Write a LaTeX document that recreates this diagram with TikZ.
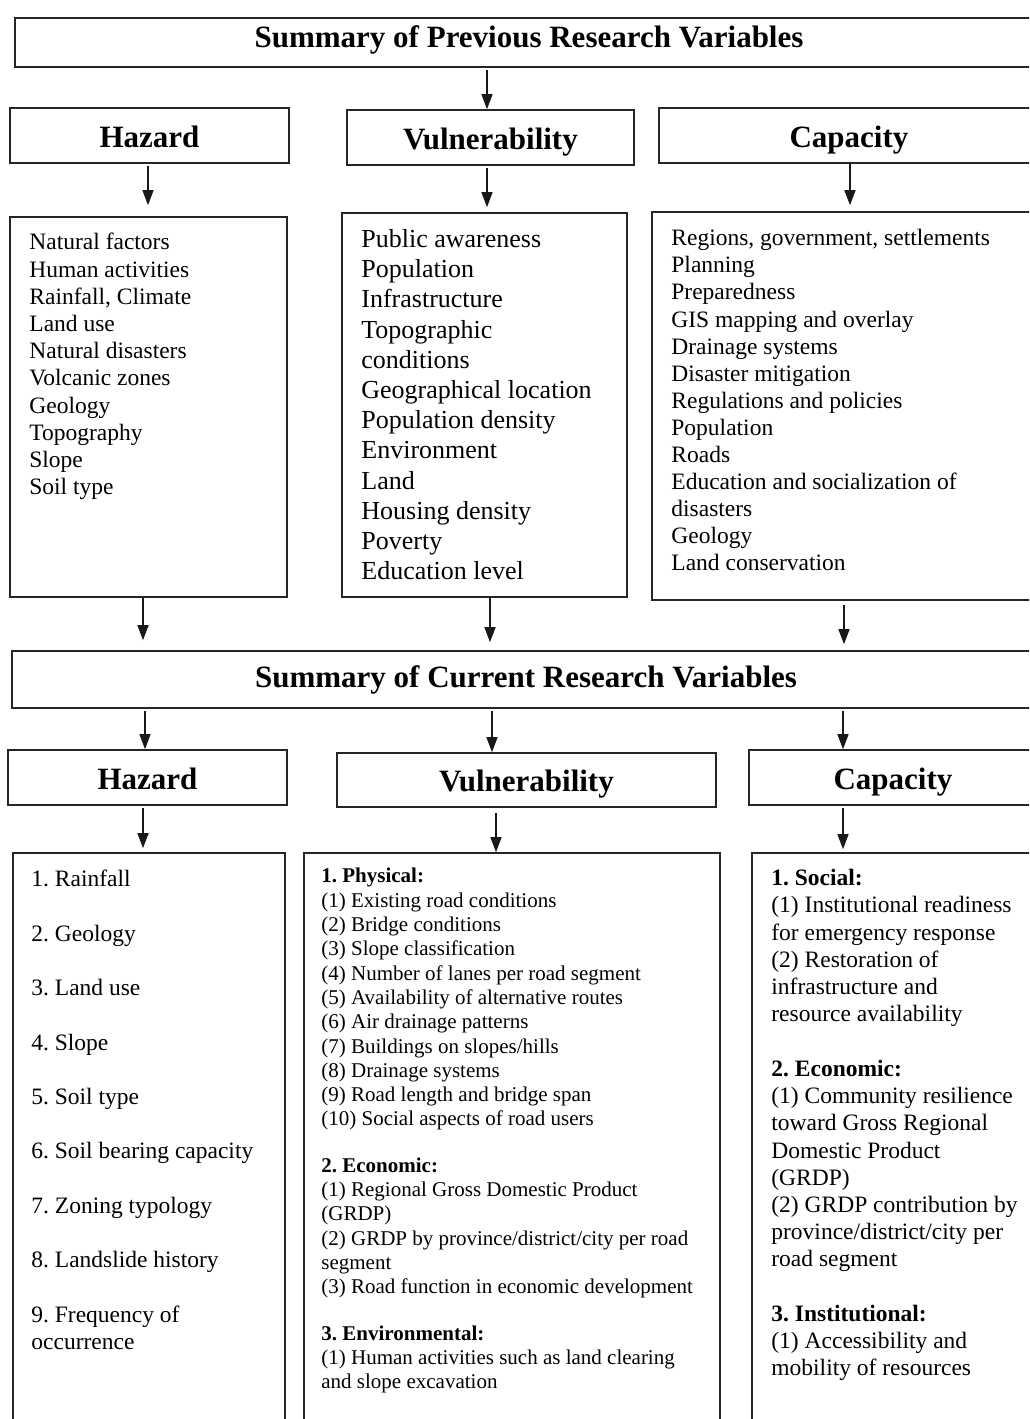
\documentclass[tikz,border=0pt]{standalone}
\usepackage{fontspec}
\setmainfont{Liberation Serif}
\usetikzlibrary{positioning,arrows.meta,calc}
\frenchspacing

\begin{document}
\begin{tikzpicture}[x=1pt,y=-1pt,
 box/.style={draw=black!85,line width=1.6pt,inner sep=0pt},
 head/.style={box,font=\bfseries\fontsize{31}{36}\selectfont,text height=25pt,text depth=2pt},
 title/.style={box,font=\bfseries\fontsize{31}{36}\selectfont,text height=23pt,text depth=8pt},
 items/.style={anchor=north west,inner sep=0pt,align=left},
 arr/.style={-{Triangle[length=15pt,width=11pt]},line width=1.3pt,color=black!90}]
\useasboundingbox (0,0) rectangle (1029,1419);
\clip (0,0) rectangle (1029,1419);
\fill[white] (0,0) rectangle (1029,1419);

% previous research
\node[title,text depth=14pt,minimum width=1028pt,minimum height=49pt] (prevtitle) at (529,42.5) {Summary of Previous Research Variables};
\node[head,minimum width=279pt,minimum height=55pt] (hprev) at (149.5,135.5) {Hazard};
\node[head,minimum width=287pt,minimum height=55pt] (vprev) at (490.5,137.5) {Vulnerability};
\node[head,minimum width=380pt,minimum height=55pt] (cprev) at (849,135.5) {Capacity};
\node[box,minimum width=277pt,minimum height=380pt] (hprevlist) at (148.5,407) {};
\node[box,minimum width=285pt,minimum height=384pt] (vprevlist) at (484.5,405) {};
\node[box,minimum width=388pt,minimum height=388pt] (cprevlist) at (846,406) {};
\node[items,font=\fontsize{23.5}{27.2}\selectfont] (hprevtext) at ([xshift=20pt,yshift=-17pt]hprevlist.north west)
 {Natural factors\\Human activities\\Rainfall, Climate\\Land use\\Natural disasters\\Volcanic zones\\Geology\\Topography\\Slope\\Soil type};
\node[items,font=\fontsize{26}{30.2}\selectfont] (vprevtext) at ([xshift=20pt,yshift=-17pt]vprevlist.north west)
 {Public awareness\\Population\\Infrastructure\\Topographic\\conditions\\Geographical location\\Population density\\Environment\\Land\\Housing density\\Poverty\\Education level};
\node[items,font=\fontsize{23.5}{27.1}\selectfont] (cprevtext) at ([xshift=20pt,yshift=-18pt]cprevlist.north west)
 {Regions, government, settlements\\Planning\\Preparedness\\GIS mapping and overlay\\Drainage systems\\Disaster mitigation\\Regulations and policies\\Population\\Roads\\Education and socialization of\\disasters\\Geology\\Land conservation};

% current research
\node[title,minimum width=1028pt,minimum height=57pt] (curtitle) at (526,679.5) {Summary of Current Research Variables};
\node[head,minimum width=279pt,minimum height=55pt] (hcur) at (147.5,777.5) {Hazard};
\node[head,minimum width=379pt,minimum height=54pt] (vcur) at (526.5,780) {Vulnerability};
\node[head,minimum width=288pt,minimum height=55pt] (ccur) at (893,777.5) {Capacity};
\node[box,minimum width=272pt,minimum height=587pt] (hcurlist) at (149,1146.5) {};
\node[box,minimum width=416pt,minimum height=587pt] (vcurlist) at (512,1146.5) {};
\node[box,minimum width=288pt,minimum height=587pt] (ccurlist) at (896,1146.5) {};
\node[items,font=\fontsize{23.5}{27.2}\selectfont] (hcurtext) at ([xshift=19pt,yshift=-18pt]hcurlist.north west)
 {1. Rainfall\\[27.2pt]2. Geology\\[27.2pt]3. Land use\\[27.2pt]4. Slope\\[27.2pt]5. Soil type\\[27.2pt]6. Soil bearing capacity\\[27.2pt]7. Zoning typology\\[27.2pt]8. Landslide history\\[27.2pt]9. Frequency of\\occurrence};
\node[items,font=\fontsize{21}{24.3}\selectfont] (vcurtext) at ([xshift=18pt,yshift=-16pt]vcurlist.north west)
 {\textbf{1. Physical:}\\(1) Existing road conditions\\(2) Bridge conditions\\(3) Slope classification\\(4) Number of lanes per road segment\\(5) Availability of alternative routes\\(6) Air drainage patterns\\(7) Buildings on slopes/hills\\(8) Drainage systems\\(9) Road length and bridge span\\(10) Social aspects of road users\\[22pt]%
 \textbf{2. Economic:}\\(1) Regional Gross Domestic Product\\(GRDP)\\(2) GRDP by province/district/city per road\\segment\\(3) Road function in economic development\\[22pt]%
 \textbf{3. Environmental:}\\(1) Human activities such as land clearing\\and slope excavation};
\node[items,font=\fontsize{23.5}{27.2}\selectfont] (ccurtext) at ([xshift=20pt,yshift=-17pt]ccurlist.north west)
 {\textbf{1. Social:}\\(1) Institutional readiness\\for emergency response\\(2) Restoration of\\infrastructure and\\resource availability\\[27.5pt]%
 \textbf{2. Economic:}\\(1) Community resilience\\toward Gross Regional\\Domestic Product\\(GRDP)\\(2) GRDP contribution by\\province/district/city per\\road segment\\[27pt]%
 \textbf{3. Institutional:}\\(1) Accessibility and\\mobility of resources};

% arrows
\draw[arr,shorten <=2pt] ([xshift=-3.5pt]vprev.north |- prevtitle.south) -- ([xshift=-3.5pt]vprev.north);
\draw[arr,shorten <=2pt,shorten >=11pt] ([xshift=-1.5pt]hprev.south) -- ([xshift=-1.5pt]hprev.south |- hprevlist.north);
\draw[arr,shorten <=2pt,shorten >=5pt] ([xshift=-3.5pt]vprev.south) -- ([xshift=-3.5pt]vprev.south |- vprevlist.north);
\draw[arr,shorten >=6pt] ([xshift=1pt]cprev.south) -- ([xshift=1pt]cprev.south |- cprevlist.north);
\draw[arr,shorten >=10pt] ([xshift=-5.5pt]hprevlist.south) -- ([xshift=-5.5pt]hprevlist.south |- curtitle.north);
\draw[arr,shorten >=8pt] ([xshift=5.5pt]vprevlist.south) -- ([xshift=5.5pt]vprevlist.south |- curtitle.north);
\draw[arr,shorten <=4pt,shorten >=6pt] ([xshift=-2pt]cprevlist.south) -- ([xshift=-2pt]cprevlist.south |- curtitle.north);
\draw[arr,shorten <=2pt] ([xshift=-2.5pt]hcur.north |- curtitle.south) -- ([xshift=-2.5pt]hcur.north);
\draw[arr,shorten <=2pt] ([xshift=-34.5pt]vcur.north |- curtitle.south) -- ([xshift=-34.5pt]vcur.north);
\draw[arr,shorten <=2pt] ([xshift=-50pt]ccur.north |- curtitle.south) -- ([xshift=-50pt]ccur.north);
\draw[arr,shorten <=2pt,shorten >=4pt] ([xshift=-4.5pt]hcur.south) -- ([xshift=-4.5pt]hcur.south |- hcurlist.north);
\draw[arr,shorten <=5pt] ([xshift=-30.5pt]vcur.south) -- ([xshift=-30.5pt]vcur.south |- vcurlist.north);
\draw[arr,shorten <=2pt,shorten >=3pt] ([xshift=-50pt]ccur.south) -- ([xshift=-50pt]ccur.south |- ccurlist.north);
\end{tikzpicture}
\end{document}
